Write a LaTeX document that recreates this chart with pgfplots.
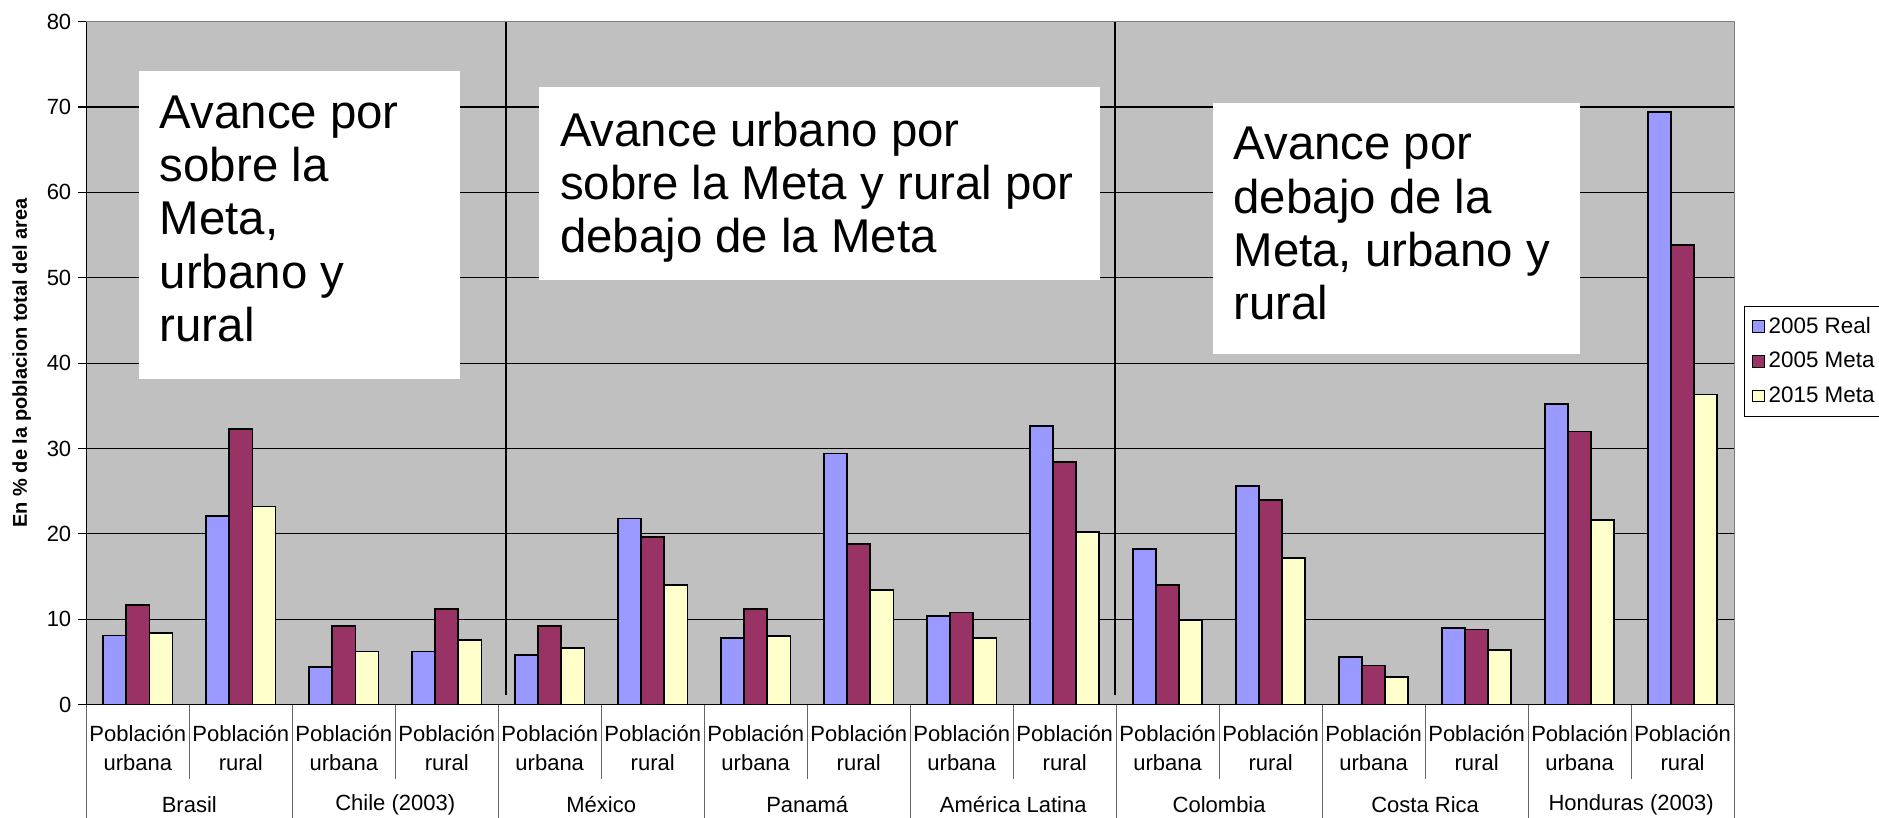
\documentclass[border=0pt]{standalone}
\usepackage{fontspec}
\setmainfont{Liberation Sans}
\usepackage{pgfplots}
\pgfplotsset{compat=1.18}
\definecolor{realc}{HTML}{9999FF}
\definecolor{metaa}{HTML}{993366}
\definecolor{metab}{HTML}{FFFFCC}
\definecolor{bggray}{HTML}{C0C0C0}
\begin{document}
\begin{tikzpicture}
\useasboundingbox (-43.15pt,-56.7pt) rectangle (896.35pt,352.3pt);
\begin{axis}[
  at={(0pt,0pt)}, anchor=south west,
  width=823.9pt, height=341.5pt, scale only axis,
  xmin=-0.5, xmax=15.5, ymin=0, ymax=80,
  clip=false,
  axis background/.style={fill=bggray},
  axis line style={draw=black!50},
  ytick={0,10,...,80},
  ymajorgrids, grid style={black, line width=0.6pt},
  ytick pos=left, tick align=outside, major tick length=4pt,
  ytick style={black, line width=0.6pt},
  xtick={0,...,15},
  xticklabels={{Población\\urbana},{Población\\rural},{Población\\urbana},{Población\\rural},{Población\\urbana},{Población\\rural},{Población\\urbana},{Población\\rural},{Población\\urbana},{Población\\rural},{Población\\urbana},{Población\\rural},{Población\\urbana},{Población\\rural},{Población\\urbana},{Población\\rural}},
  xtick style={draw=none},
  xticklabel style={align=center, font=\fontsize{11}{14.4}\selectfont, yshift=-3pt},
  yticklabel style={font=\fontsize{11}{13}\selectfont},
  /pgf/number format/assume math mode=true,
  ybar, bar width=0.224,
  legend style={at={(1.0058,0.5842)}, anchor=north west, draw=black, fill=white,
    font=\fontsize{11.2}{13}\selectfont, row sep=4pt, inner xsep=4pt, inner ysep=3.5pt,
    cells={anchor=west}, /tikz/every even column/.append style={column sep=2pt}},
  legend image code/.code={\draw[#1,draw=black,line width=0.5pt] (0pt,-2.9pt) rectangle (5.8pt,2.9pt);},
]
\addplot[fill=realc, draw=black, line width=0.8pt, bar shift=-0.224] coordinates {
(0,8.1) (1,22.1) (2,4.4) (3,6.2) (4,5.8) (5,21.8) (6,7.8) (7,29.4)
(8,10.4) (9,32.6) (10,18.2) (11,25.6) (12,5.6) (13,9.0) (14,35.2) (15,69.4)};
\addplot[fill=metaa, draw=black, line width=0.8pt, bar shift=0] coordinates {
(0,11.7) (1,32.3) (2,9.2) (3,11.2) (4,9.2) (5,19.6) (6,11.2) (7,18.8)
(8,10.8) (9,28.4) (10,14.0) (11,24.0) (12,4.6) (13,8.8) (14,32.0) (15,53.8)};
\addplot[fill=metab, draw=black, line width=0.8pt, bar shift=0.224] coordinates {
(0,8.4) (1,23.2) (2,6.2) (3,7.6) (4,6.6) (5,14.0) (6,8.0) (7,13.4)
(8,7.8) (9,20.2) (10,9.9) (11,17.2) (12,3.2) (13,6.4) (14,21.6) (15,36.3)};
\legend{2005 Real,2005 Meta,2015 Meta}
% separators in plot
\draw[line width=1pt] (axis cs:3.58,1.1) -- (axis cs:3.58,80);
\draw[line width=1pt] (axis cs:9.49,1.1) -- (axis cs:9.49,80);
% text boxes
\fill[white] (axis cs:0.012,74.2) rectangle (axis cs:3.13,38.1);
\fill[white] (axis cs:3.899,72.3) rectangle (axis cs:9.344,49.7);
\fill[white] (axis cs:10.438,70.5) rectangle (axis cs:14.0,41.1);
\node[anchor=north west, align=left, inner sep=0pt, xshift=10.2pt, yshift=-12pt,
  font=\fontsize{23.7}{26.7}\selectfont] at (axis cs:0.012,74.2)
  {Avance por\\sobre la\\Meta,\\urbano y\\rural};
\node[anchor=north west, align=left, inner sep=0pt, xshift=10.2pt, yshift=-12pt,
  font=\fontsize{23.7}{26.7}\selectfont] at (axis cs:3.899,72.3)
  {Avance urbano por\\sobre la Meta y rural por\\debajo de la Meta};
\node[anchor=north west, align=left, inner sep=0pt, xshift=10.2pt, yshift=-12pt,
  font=\fontsize{23.7}{26.7}\selectfont] at (axis cs:10.438,70.5)
  {Avance por\\debajo de la\\Meta, urbano y\\rural};
% axis lines
\draw[black, line width=0.8pt] (axis cs:-0.5,80) -- (axis cs:-0.5,0) -- (axis cs:15.5,0);
% label table lines
\pgfplotsinvokeforeach{-0.5,1.5,3.5,5.5,7.5,9.5,11.5,13.5,15.5}{
  \draw[black!60, line width=0.6pt] (axis cs:#1,0) -- ++(0pt,-56.7pt);}
\pgfplotsinvokeforeach{0.5,2.5,4.5,6.5,8.5,10.5,12.5,14.5}{
  \draw[black!60, line width=0.6pt] (axis cs:#1,0) -- ++(0pt,-37.2pt);}
\node[font=\fontsize{11}{13}\selectfont, yshift=-50.2pt] at (axis cs:0.5,0) {Brasil};
\node[font=\fontsize{11}{13}\selectfont, yshift=-50.2pt] at (axis cs:2.5,0) {Chile (2003)};
\node[font=\fontsize{11}{13}\selectfont, yshift=-50.2pt] at (axis cs:4.5,0) {México};
\node[font=\fontsize{11}{13}\selectfont, yshift=-50.2pt] at (axis cs:6.5,0) {Panamá};
\node[font=\fontsize{11}{13}\selectfont, yshift=-50.2pt] at (axis cs:8.5,0) {América Latina};
\node[font=\fontsize{11}{13}\selectfont, yshift=-50.2pt] at (axis cs:10.5,0) {Colombia};
\node[font=\fontsize{11}{13}\selectfont, yshift=-50.2pt] at (axis cs:12.5,0) {Costa Rica};
\node[font=\fontsize{11}{13}\selectfont, yshift=-50.2pt] at (axis cs:14.5,0) {Honduras (2003)};
\end{axis}
\node[rotate=90, font=\bfseries\fontsize{10}{12}\selectfont] at (-32.35pt,170.75pt)
  {En \% de la poblacion total del area};
\end{tikzpicture}
\end{document}
